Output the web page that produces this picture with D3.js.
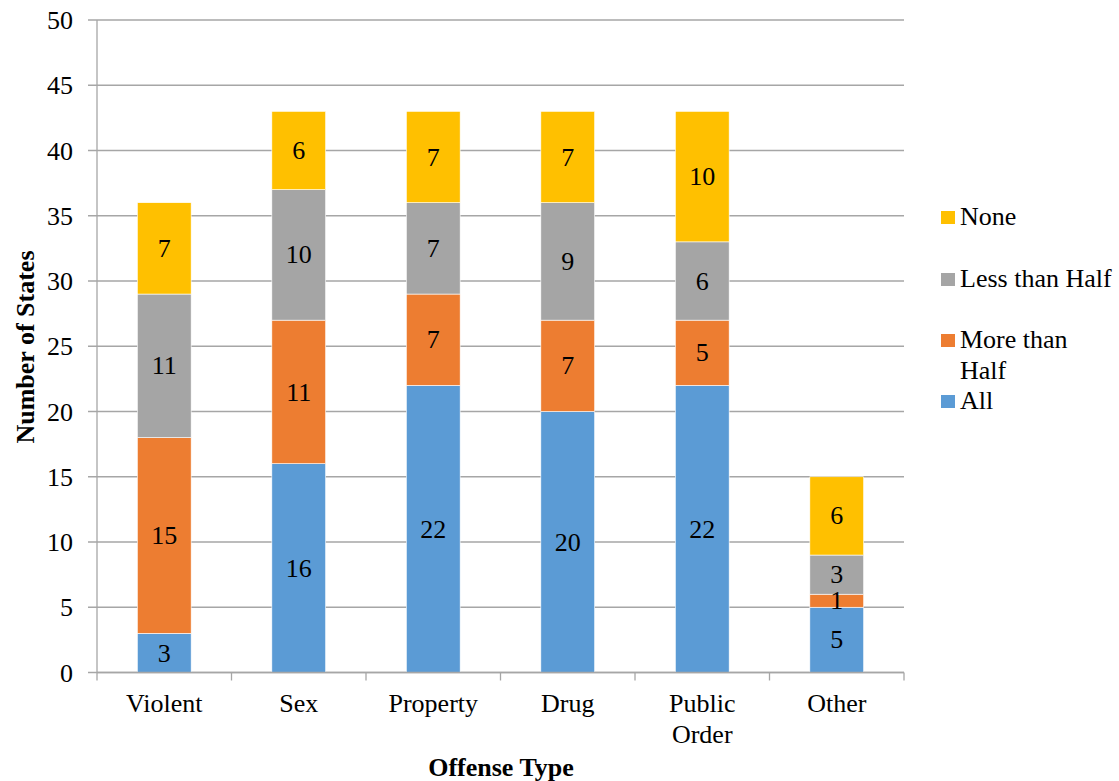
<!DOCTYPE html>
<html>
<head>
<meta charset="utf-8">
<script src="https://cdn.jsdelivr.net/npm/d3@7/dist/d3.min.js"></script>
</head>
<body style="margin:0;background:#fff">
<svg id="chart" width="1119" height="781"></svg>
<script>
// Offense types and counts of states per share category
const categories = ["Violent", "Sex", "Property", "Drug", "Public Order", "Other"];
const allValues = [3, 16, 22, 20, 22, 5];
const moreThanHalfValues = [15, 11, 7, 7, 5, 1];
const lessThanHalfValues = [11, 10, 7, 9, 6, 3];
const noneValues = [7, 6, 7, 7, 10, 6];
const seriesNames = ["All", "More than Half", "Less than Half", "None"];
const seriesColors = ["#5B9BD5", "#ED7D31", "#A5A5A5", "#FFC000"];
const yTicks = [0, 5, 10, 15, 20, 25, 30, 35, 40, 45, 50];

const rows = categories.map((c, i) => ({
  category: c,
  "All": allValues[i],
  "More than Half": moreThanHalfValues[i],
  "Less than Half": lessThanHalfValues[i],
  "None": noneValues[i]
}));

const FONT = '"Liberation Serif"';
const FS = "26px";
const svg = d3.select("#chart");
const plot = { left: 97, right: 904, top: 20, bottom: 672.5 };

const x = d3.scaleBand().domain(categories).range([plot.left, plot.right]).paddingInner(0.6).paddingOuter(0.3);
const y = d3.scaleLinear().domain([0, 50]).range([plot.bottom, plot.top]);
const color = d3.scaleOrdinal().domain(seriesNames).range(seriesColors);

// Horizontal gridlines
svg.append("g").selectAll("line").data(yTicks).join("line")
  .attr("x1", plot.left - 9).attr("x2", plot.right)
  .attr("y1", d => y(d)).attr("y2", d => y(d))
  .attr("stroke", "#a6a6a6").attr("stroke-width", 1.3);

// Y axis labels
const yAxis = d3.axisLeft(y).tickValues(yTicks).tickSize(0).tickPadding(0);
svg.append("g").attr("transform", `translate(${plot.left - 24},0)`).call(yAxis)
  .call(g => g.select(".domain").remove())
  .selectAll("text")
  .attr("dy", "0.33em")
  .attr("fill", "#000")
  .style("font-family", FONT).style("font-size", FS);

// Vertical axis line
svg.append("line").attr("x1", plot.left).attr("x2", plot.left)
  .attr("y1", plot.top).attr("y2", plot.bottom)
  .attr("stroke", "#a6a6a6").attr("stroke-width", 1.3);

// Stacked bars
const stack = d3.stack().keys(seriesNames);
const layers = stack(rows);

const layerG = svg.append("g").selectAll("g").data(layers).join("g")
  .attr("fill", d => color(d.key));
layerG.selectAll("rect").data(d => d).join("rect")
  .attr("x", d => x(d.data.category))
  .attr("width", x.bandwidth())
  .attr("y", d => y(d[1]))
  .attr("height", d => y(d[0]) - y(d[1]))
  .attr("stroke", "#ffffff").attr("stroke-width", 0.6);

// Value labels centered in each segment
const labelG = svg.append("g");
layers.forEach(layer => {
  labelG.selectAll(null).data(layer).join("text")
    .attr("x", d => x(d.data.category) + x.bandwidth() / 2)
    .attr("y", d => y((d[0] + d[1]) / 2))
    .attr("dy", "0.33em")
    .attr("text-anchor", "middle")
    .style("font-family", FONT).style("font-size", FS)
    .text(d => d[1] - d[0]);
});

// X axis baseline with ticks between categories
svg.append("line").attr("x1", plot.left).attr("x2", plot.right)
  .attr("y1", plot.bottom).attr("y2", plot.bottom)
  .attr("stroke", "#a6a6a6").attr("stroke-width", 1.3);
const boundaries = d3.range(categories.length + 1).map(i => plot.left + i * (plot.right - plot.left) / categories.length);
svg.append("g").selectAll("line").data(boundaries).join("line")
  .attr("x1", d => d).attr("x2", d => d)
  .attr("y1", plot.bottom).attr("y2", plot.bottom + 8)
  .attr("stroke", "#a6a6a6").attr("stroke-width", 1.3);

// Category labels (wrap two-word "Public Order")
const catG = svg.append("g");
categories.forEach(c => {
  const cx = x(c) + x.bandwidth() / 2;
  const words = c === "Public Order" ? ["Public", "Order"] : [c];
  const t = catG.append("text").attr("text-anchor", "middle")
    .style("font-family", FONT).style("font-size", FS);
  words.forEach((w, i) => {
    t.append("tspan").attr("x", cx).attr("y", 712 + i * 31).text(w);
  });
});

// Axis titles
svg.append("text").attr("x", 501).attr("y", 776).attr("text-anchor", "middle")
  .style("font-family", FONT).style("font-size", FS).style("font-weight", "bold")
  .text("Offense Type");
svg.append("text").attr("transform", "translate(34,347) rotate(-90)")
  .attr("text-anchor", "middle")
  .style("font-family", FONT).style("font-size", FS).style("font-weight", "bold")
  .text("Number of States");

// Legend (top-down: None, Less than Half, More than Half, All)
const legendItems = [
  { key: "None", lines: ["None"], base: 225 },
  { key: "Less than Half", lines: ["Less than Half"], base: 287 },
  { key: "More than Half", lines: ["More than", "Half"], base: 348 },
  { key: "All", lines: ["All"], base: 409 }
];
const lg = svg.append("g");
legendItems.forEach(item => {
  lg.append("rect").attr("x", 941).attr("y", item.base - 14).attr("width", 14).attr("height", 13)
    .attr("fill", color(item.key));
  const t = lg.append("text").style("font-family", FONT).style("font-size", FS);
  item.lines.forEach((ln, i) => {
    t.append("tspan").attr("x", 960).attr("y", item.base + i * 31).text(ln);
  });
});
</script>
</body>
</html>
